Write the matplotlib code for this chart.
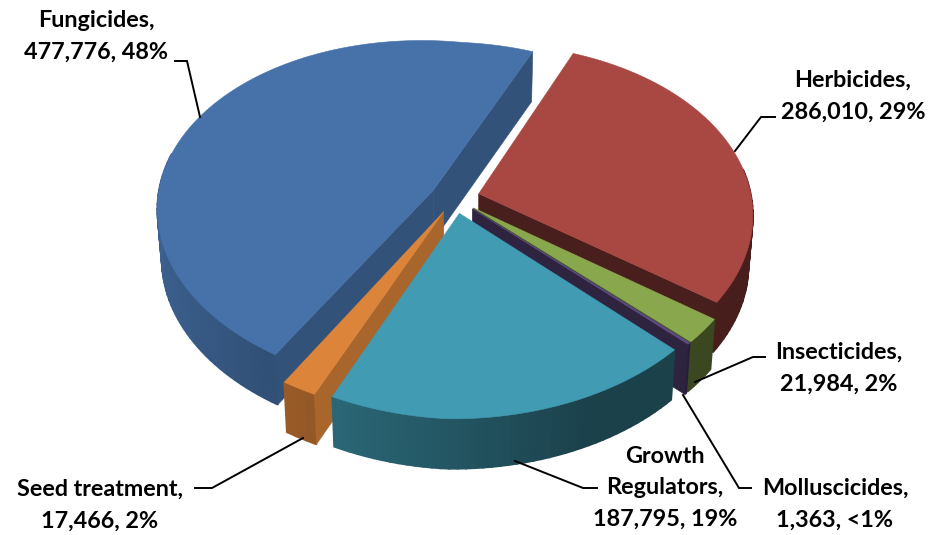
import numpy as np
import matplotlib.pyplot as plt
from matplotlib.patches import Polygon

plt.rcParams['font.family'] = ['Lato', 'DejaVu Sans']

nombres = ['Herbicides', 'Insecticides', 'Molluscicides', 'Growth\nRegulators', 'Seed treatment', 'Fungicides']
valores = [286010, 21984, 1363, 187795, 17466, 477776]
porcentajes = ['29%', '2%', '<1%', '19%', '2%', '48%']
colores = ['#a94743', '#89a84e', '#5f4a85', '#409bb3', '#dc8439', '#4672a9']
# brightness of the cut face at the end of a slice, by slice
sombra_corte = [0.43, 0.43, 0.48, 0.45, 0.77, 0.72]

ANGULO_INICIO = 22.0
EXPLOSION = 0.09
CX, CY = 455, 198
RX, RY = 273, 172
PERSP = 0.14
SESGO_X = 7.5
SESGO_Y = 12
ALTO = 50

# label text centres and leader paths, in pixels
pos_texto = [(853, 96), (839, 368), (835, 504), (665, 488), (100, 505), (96, 36)]
guias = [
    [(735, 151), (761, 117), (775, 117)],
    [(695, 382), (753, 357), (765, 357)],
    [(683, 395), (739, 488), (751, 488)],
    [(515, 461), (583, 488), (597, 488)],
    [(303, 438), (212, 488), (195, 488)],
    [(175, 61), (187, 61), (200, 117)],
]


def proyectar(x, y, abajo=False):
    s = 1 / (1 + PERSP * y)
    px = CX + RX * x * s + SESGO_X * y
    py = CY - RY * y * s + SESGO_Y * min(x, 0)
    if abajo:
        px = CX + (px - CX) * 0.985
        py = py + ALTO
    return px, py


def oscurecer(color, f):
    rgb = np.array(plt.matplotlib.colors.to_rgb(color))
    return tuple(rgb * f)


def brillo_pared(theta):
    return max(0.42, 0.55 - 0.3 * np.sin(np.radians(theta)))


def dibujar_cara(ax, pts, color, borde=0.4):
    ax.add_patch(Polygon(pts, closed=True, facecolor=color, edgecolor=color, lw=borde))


def dibujar_porcion(ax, a0, a1, color, sombra):
    medio = np.radians((a0 + a1) / 2)
    ox = EXPLOSION * np.sin(medio)
    oy = EXPLOSION * np.cos(medio)
    angulos = np.linspace(a0, a1, max(3, int((a1 - a0) / 1.5)))
    xs = ox + np.sin(np.radians(angulos))
    ys = oy + np.cos(np.radians(angulos))

    # outer wall, one quad per arc step; the back of the rim stays hidden
    for i in range(len(angulos) - 1):
        theta = (angulos[i] + angulos[i + 1]) / 2
        if np.cos(np.radians(theta)) > 0.15:
            continue
        q = [proyectar(xs[i], ys[i]), proyectar(xs[i + 1], ys[i + 1]),
             proyectar(xs[i + 1], ys[i + 1], True), proyectar(xs[i], ys[i], True)]
        dibujar_cara(ax, q, oscurecer(color, brillo_pared(theta)), 1.2)

    # cut faces that look towards the viewer
    for idx, normal in ((0, a0 - 90), (-1, a1 + 90)):
        if np.cos(np.radians(normal)) < 0:
            q = [proyectar(ox, oy), proyectar(xs[idx], ys[idx]),
                 proyectar(xs[idx], ys[idx], True), proyectar(ox, oy, True)]
            dibujar_cara(ax, q, oscurecer(color, sombra))

    tapa = [proyectar(ox, oy)] + [proyectar(x, y) for x, y in zip(xs, ys)]
    dibujar_cara(ax, tapa, color)


fig = plt.figure(figsize=(9.29, 5.35), dpi=100)
ax = fig.add_axes([0, 0, 1, 1])
ax.set_xlim(0, 929)
ax.set_ylim(535, 0)
ax.axis('off')

total = sum(valores)
limites = ANGULO_INICIO + 360 * np.cumsum([0] + valores) / total

# back slices first so nearer ones cover them
for i in [5, 0, 1, 2, 4, 3]:
    dibujar_porcion(ax, limites[i], limites[i + 1], colores[i], sombra_corte[i])

for guia in guias:
    ax.plot([p[0] for p in guia], [p[1] for p in guia], color='black', lw=1.4, solid_joinstyle='miter')

for i, nombre in enumerate(nombres):
    texto = f"{nombre},\n{valores[i]:,}, {porcentajes[i]}"
    ax.text(pos_texto[i][0], pos_texto[i][1], texto, ha='center', va='center', fontsize=16.8,
            fontweight='bold', linespacing=1.62, color='black')

fig.savefig('out.png', dpi=100)
